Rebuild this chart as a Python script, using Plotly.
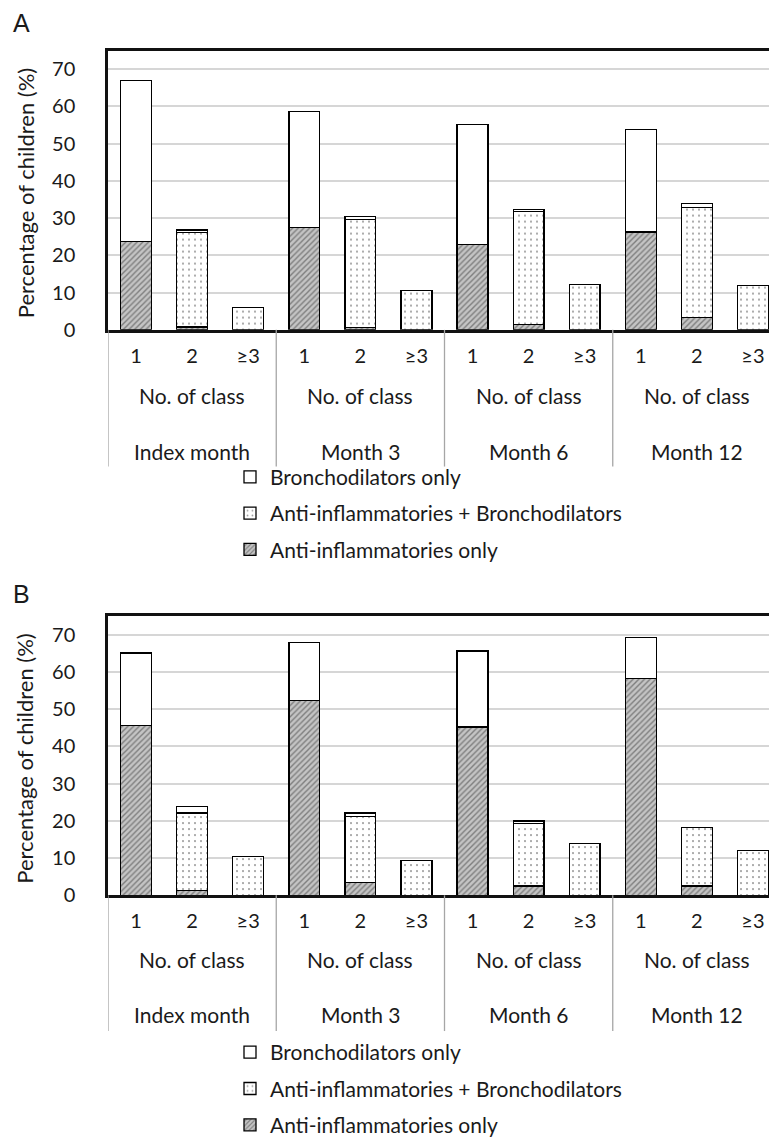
import plotly.graph_objects as go

# ---------------- data ----------------
months = ["Index month", "Month 3", "Month 6", "Month 12"]
classes = ["1", "2", "≥3"]
group_title = "No. of class"
y_title = "Percentage of children (%)"
panel_labels = ["A", "B"]
series_names = ["Anti-inflammatories only",
                "Anti-inflammatories + Bronchodilators",
                "Bronchodilators only"]

# Panel A
anti_A = [23.7, 0.8, 0, 27.4, 0.6, 0, 22.9, 1.5, 0, 26.3, 3.4, 0]
combo_A = [0, 25.3, 6.1, 0, 29.1, 10.6, 0, 30.3, 12.1, 0, 29.4, 12.0]
bd_A = [43.2, 0.7, 0, 31.3, 0.8, 0, 32.3, 0.6, 0, 27.6, 1.1, 0]

# Panel B
anti_B = [45.6, 1.4, 0, 52.4, 3.4, 0, 45.2, 2.5, 0, 58.2, 2.5, 0]
combo_B = [0, 20.7, 10.5, 0, 17.8, 9.4, 0, 16.8, 14.0, 0, 15.7, 12.0]
bd_B = [19.5, 1.8, 0, 15.5, 0.9, 0, 20.4, 0.7, 0, 11.1, 0, 0]

y_ticks = [0, 10, 20, 30, 40, 50, 60, 70]

# ---------------- layout constants ----------------
W, H = 777, 1141
FONT = "Lato"
TEXT_COLOR = "#1a1a1a"


def py(px):
    """pixel row (from top) -> paper y"""
    return 1 - px / H


cats = [f"{m}|{c}" for m in months for c in classes]

styles = {
    series_names[0]: dict(color="#c4c4c4",
                          pattern=dict(shape="/", fgcolor="#383838", bgcolor="#c4c4c4",
                                       size=4, solidity=0.35)),
    series_names[1]: dict(color="white",
                          pattern=dict(shape=".", fgcolor="#333333", bgcolor="white",
                                       size=6, solidity=0.1)),
    series_names[2]: dict(color="white"),
}
legend_rank = {series_names[0]: 3, series_names[1]: 2, series_names[2]: 1}

fig = go.Figure()

panels = [
    dict(data=[anti_A, combo_A, bd_A], xa="x", ya="y", legend="legend",
         top=43, bottom=325, sep_bottom=463, r_group=391, r_month=448,
         leg_top=453, label_y=15),
    dict(data=[anti_B, combo_B, bd_B], xa="x2", ya="y2", legend="legend2",
         top=614, bottom=896, sep_bottom=1033, r_group=961, r_month=1016,
         leg_top=1034, label_y=592),
]

annotations = []
shapes = []

for pi, p in enumerate(panels):
    for si, (name, vals) in enumerate(zip(series_names, p["data"])):
        st = styles[name]
        marker = dict(color=st["color"], line=dict(color="#000000", width=1.3))
        if "pattern" in st:
            marker["pattern"] = st["pattern"]
        fig.add_trace(go.Bar(
            x=cats, y=[v if v else None for v in vals], name=name, marker=marker,
            xaxis=p["xa"], yaxis=p["ya"], legend=p["legend"],
            legendgroup=f"{p['legend']}-{si}", legendrank=legend_rank[name],
            showlegend=True,
        ))

    xref = p["xa"]
    # "No. of class" and month labels
    for m in months:
        mid = f"{m}|{classes[1]}"
        annotations.append(dict(x=mid, xref=xref, y=py(p["r_group"]), yref="paper",
                                text=group_title, showarrow=False, yanchor="middle",
                                font=dict(family=FONT, size=21, color=TEXT_COLOR)))
        annotations.append(dict(x=mid, xref=xref, y=py(p["r_month"]), yref="paper",
                                text=m, showarrow=False, yanchor="middle",
                                font=dict(family=FONT, size=21, color=TEXT_COLOR)))
    # group separators
    n = len(classes)
    for k in range(len(months) + 1):
        xpos = k * n - 0.5
        shapes.append(dict(type="line", xref=xref, yref="paper",
                           x0=xpos, x1=xpos, y0=py(p["bottom"]), y1=py(p["sep_bottom"]),
                           line=dict(color="#a6a6a6", width=1.3)))
    # y title
    annotations.append(dict(x=17 / W, xref="paper", y=py((p["top"] + p["bottom"]) / 2 + 3),
                            yref="paper", text=y_title, textangle=-90, showarrow=False,
                            xanchor="center", yanchor="middle",
                            font=dict(family=FONT, size=22, color=TEXT_COLOR)))
    # panel letter
    annotations.append(dict(x=3 / W, xref="paper", y=py(p["label_y"]), yref="paper",
                            text=panel_labels[pi], showarrow=False, xanchor="left",
                            yanchor="middle",
                            font=dict(family="Liberation Sans", size=25, color=TEXT_COLOR)))

axis_common_x = dict(
    type="category", categoryorder="array", categoryarray=cats,
    tickmode="array", tickvals=cats, ticktext=classes * len(months),
    showline=True, mirror=True, linecolor="#111111", linewidth=2.5,
    ticks="", showgrid=False, zeroline=False, ticklabelstandoff=6,
    tickfont=dict(family=FONT, size=20, color=TEXT_COLOR),
    domain=[100 / W, 773 / W], range=[-0.5, len(cats) - 0.5],
)
axis_common_y = dict(
    range=[0, 75], tickmode="array", tickvals=y_ticks,
    showline=True, mirror=True, linecolor="#111111", linewidth=2.5,
    showgrid=True, gridcolor="#d6d6d6", gridwidth=2, zeroline=False,
    ticks="", ticklabelstandoff=26,
    tickfont=dict(family=FONT, size=20, color=TEXT_COLOR),
)

legend_common = dict(
    x=222 / W, xanchor="left", yanchor="top", traceorder="grouped",
    tracegroupgap=6, bgcolor="rgba(0,0,0,0)", borderwidth=0,
    font=dict(family=FONT, size=21, color=TEXT_COLOR), itemclick=False,
)

fig.update_layout(
    width=W, height=H,
    margin=dict(l=0, r=0, t=0, b=0),
    paper_bgcolor="white", plot_bgcolor="white",
    barmode="stack", bargap=0.45,
    xaxis=dict(axis_common_x, anchor="y"),
    yaxis=dict(axis_common_y, anchor="x",
               domain=[py(panels[0]["bottom"]), py(panels[0]["top"])]),
    xaxis2=dict(axis_common_x, anchor="y2"),
    yaxis2=dict(axis_common_y, anchor="x2",
                domain=[py(panels[1]["bottom"]), py(panels[1]["top"])]),
    legend=dict(legend_common, y=py(panels[0]["leg_top"])),
    legend2=dict(legend_common, y=py(panels[1]["leg_top"])),
    annotations=annotations,
    shapes=shapes,
    font=dict(family=FONT, color=TEXT_COLOR),
)

fig.write_html("out.html")
